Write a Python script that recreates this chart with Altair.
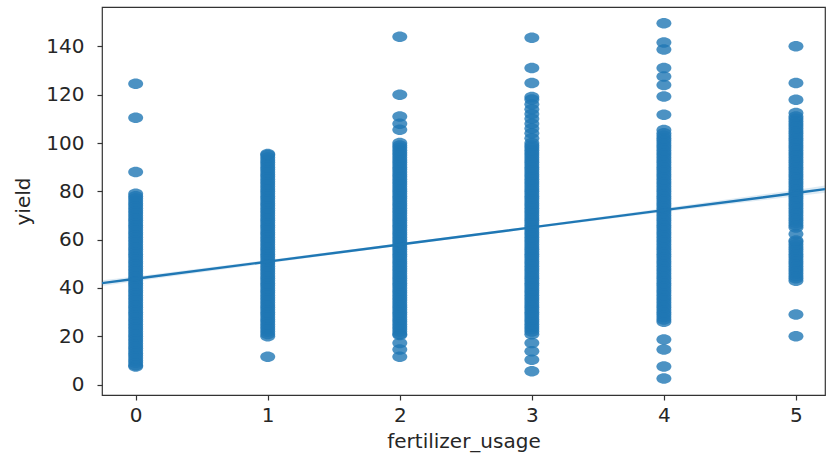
import altair as alt
import pandas as pd

# --- data ---
x_ticks = [0, 1, 2, 3, 4, 5]
y_ticks = [0, 20, 40, 60, 80, 100, 120, 140]

yield_f0 = [7.5, 8, 9, 10, 11, 12, 13, 14, 15, 16, 17, 18, 19, 20, 21, 22, 23, 24, 25,
            26, 27, 28, 29, 30, 31, 32, 33, 34, 35, 36, 37, 38, 39, 40, 41, 42, 43, 44,
            45, 46, 47, 48, 49, 50, 51, 52, 53, 54, 55, 56, 57, 58, 59, 60, 61, 62, 63,
            64, 65, 66, 67, 68, 69, 70, 71, 72, 73, 74, 75, 76, 77, 78, 79,
            88, 110.5, 124.5]
yield_f1 = [11.5, 20, 21, 22, 23, 24, 25, 26, 27, 28, 29, 30, 31, 32, 33, 34, 35, 36,
            37, 38, 39, 40, 41, 42, 43, 44, 45, 46, 47, 48, 49, 50, 51, 52, 53, 54, 55,
            56, 57, 58, 59, 60, 61, 62, 63, 64, 65, 66, 67, 68, 69, 70, 71, 72, 73, 74,
            75, 76, 77, 78, 79, 80, 81, 82, 83, 84, 85, 86, 87, 88, 89, 90, 91, 92, 93,
            94, 95, 95.5]
yield_f2 = [11.5, 14.5, 17.2, 20.5, 21, 22, 23, 24, 25, 26, 27, 28, 29, 30, 31, 32, 33,
            34, 35, 36, 37, 38, 39, 40, 41, 42, 43, 44, 45, 46, 47, 48, 49, 50, 51, 52,
            53, 54, 55, 56, 57, 58, 59, 60, 61, 62, 63, 64, 65, 66, 67, 68, 69, 70, 71,
            72, 73, 74, 75, 76, 77, 78, 79, 80, 81, 82, 83, 84, 85, 86, 87, 88, 89, 90,
            91, 92, 93, 94, 95, 96, 97, 98, 99, 100, 105.5, 108, 111, 120, 144]
yield_f3 = [5.5, 10.3, 13.8, 17.2, 20.8, 22, 23, 24, 25, 26, 27, 28, 29, 30, 31, 32, 33,
            34, 35, 36, 37, 38, 39, 40, 41, 42, 43, 44, 45, 46, 47, 48, 49, 50, 51, 52,
            53, 54, 55, 56, 57, 58, 59, 60, 61, 62, 63, 64, 65, 66, 67, 68, 69, 70, 71,
            72, 73, 74, 75, 76, 77, 78, 79, 80, 81, 82, 83, 84, 85, 86, 87, 88, 89, 90,
            91, 92, 93, 94, 95, 96, 97, 98, 99, 100, 102, 104, 106, 108, 110, 112, 114,
            116, 118, 119, 124.8, 131, 143.6]
yield_f4 = [2.5, 7.5, 14.5, 18.7, 26, 27, 28, 29, 30, 31, 32, 33, 34, 35, 36, 37, 38,
            39, 40, 41, 42, 43, 44, 45, 46, 47, 48, 49, 50, 51, 52, 53, 54, 55, 56, 57,
            58, 59, 60, 61, 62, 63, 64, 65, 66, 67, 68, 69, 70, 71, 72, 73, 74, 75, 76,
            77, 78, 79, 80, 81, 82, 83, 84, 85, 86, 87, 88, 89, 90, 91, 92, 93, 94, 95,
            96, 97, 98, 99, 100, 101, 102, 103, 104, 105.4, 111.7, 119.3, 124, 127.5,
            131, 138.7, 141.6, 149.6]
yield_f5 = [20, 29, 43, 44, 45, 46, 47, 48, 49, 50, 51, 52, 53, 54, 55, 56, 57, 58, 59,
            59.6, 62.3, 65, 66, 67, 68, 69, 70, 71, 72, 73, 74, 75, 76, 77, 78, 79, 80,
            81, 82, 83, 84, 85, 86, 87, 88, 89, 90, 91, 92, 93, 94, 95, 96, 97, 98, 99,
            100, 101, 102, 103, 104, 105, 106, 107, 108, 109, 110, 111, 112.4, 117.9,
            124.8, 140.1]

# regression line and confidence band
reg_x = [-0.255, 0, 1, 2, 3, 4, 5, 5.22]
reg_y = [42.0, 43.8, 50.9, 58.0, 65.1, 72.2, 79.3, 80.9]
ci_lo = [40.8, 42.8, 50.2, 57.5, 64.6, 71.4, 78.0, 79.4]
ci_hi = [43.2, 44.8, 51.6, 58.5, 65.6, 73.0, 80.6, 82.4]

cols = [yield_f0, yield_f1, yield_f2, yield_f3, yield_f4, yield_f5]
rows = []
for f, ys in zip(x_ticks, cols):
    for y in ys:
        rows.append({"fertilizer_usage": f, "yield": y})
pts = pd.DataFrame(rows)
reg = pd.DataFrame({"fertilizer_usage": reg_x, "yield": reg_y, "lo": ci_lo, "hi": ci_hi})

BLUE = "#1f77b4"
FONT = "DejaVu Sans"
TXT = "#262626"
ELLIPSE = "M -1 0 A 1 0.7 0 1 0 1 0 A 1 0.7 0 1 0 -1 0 Z"

xs = alt.Scale(domain=[-0.255, 5.22], nice=False, zero=False)
ys = alt.Scale(domain=[-4.3, 156.3], nice=False, zero=False)

xaxis = alt.Axis(values=x_ticks, format="d", title="fertilizer_usage", grid=False,
                 domain=False, tickSize=5, tickColor="#333", tickWidth=1.2,
                 labelFontSize=20, titleFontSize=20,
                 labelColor=TXT, titleColor=TXT, labelFont=FONT, titleFont=FONT,
                 titleFontWeight="normal", labelPadding=5, titlePadding=6)
yaxis = alt.Axis(values=y_ticks, format="d", title="yield", grid=False, domain=False,
                 tickSize=5, tickColor="#333", tickWidth=1.2,
                 labelFontSize=20, titleFontSize=20,
                 labelColor=TXT, titleColor=TXT, labelFont=FONT, titleFont=FONT,
                 titleFontWeight="normal", labelPadding=13, titlePadding=12)

scatter = alt.Chart(pts).mark_point(
    shape=ELLIPSE, size=225, filled=True, color=BLUE, opacity=0.8, strokeWidth=0
).encode(
    x=alt.X("fertilizer_usage:Q", scale=xs, axis=xaxis),
    y=alt.Y("yield:Q", scale=ys, axis=yaxis),
)

band = alt.Chart(reg).mark_area(color=BLUE, opacity=0.15, clip=True).encode(
    x=alt.X("fertilizer_usage:Q", scale=xs),
    y=alt.Y("lo:Q", scale=ys),
    y2="hi:Q",
)

line = alt.Chart(reg).mark_line(color=BLUE, strokeWidth=2.4, clip=True).encode(
    x=alt.X("fertilizer_usage:Q", scale=xs),
    y=alt.Y("yield:Q", scale=ys),
)

chart = alt.layer(scatter, band, line).properties(
    width=723, height=388,
    autosize=alt.AutoSizeParams(type="none"),
    padding={"left": 102, "top": 7, "right": 1, "bottom": 61},
    background="white",
).configure_view(stroke="#333", strokeWidth=1.2)

chart.save("out.html", embed_options={"renderer": "svg", "actions": False})
